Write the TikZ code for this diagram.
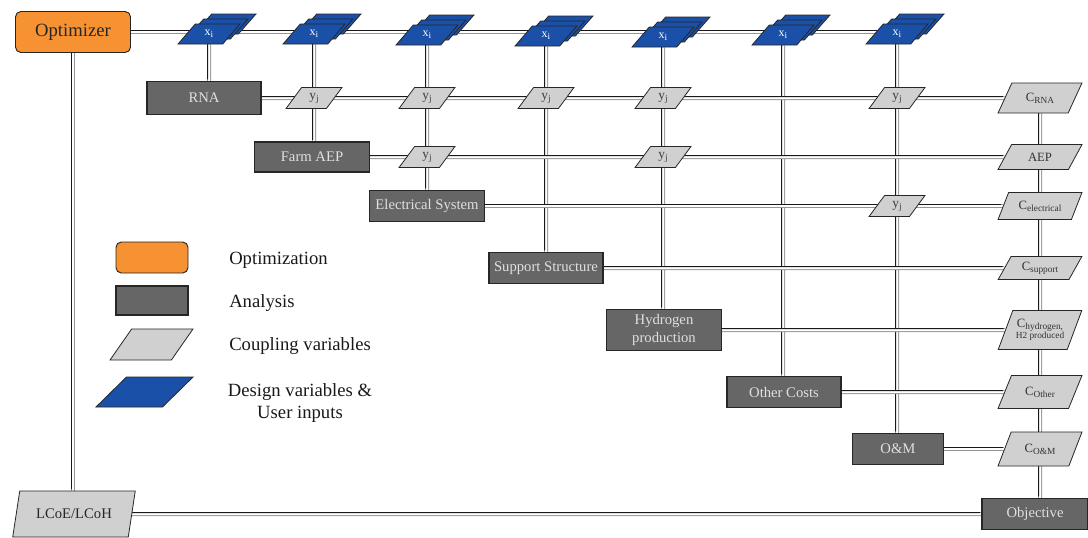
\documentclass[tikz,border=0pt]{standalone}
\usepackage{fontspec}
\setmainfont{Liberation Serif}
\usetikzlibrary{shapes.geometric,backgrounds}
\definecolor{optorange}{HTML}{F69232}
\definecolor{anagray}{HTML}{666666}
\definecolor{cplgray}{HTML}{D0D0D0}
\definecolor{dvblue}{HTML}{1B50A9}
\newcommand\subt[1]{\raisebox{-0.35ex}{\fontsize{7}{8}\selectfont #1}}
\tikzset{
  conn/.style={draw=black!42, line width=3pt,
    postaction={draw=white, line width=1.5pt},
    postaction={draw=black!90, line width=0.75pt, transform canvas={shift={(-1.125pt,1.125pt)}}}},
  optbox/.style={draw=black!85, fill=optorange, rounded corners=4pt, line width=0.7pt, inner sep=0pt, text=black!85},
  anabox/.style={draw=black!85, fill=anagray, line width=0.8pt, inner sep=0pt, text=black!12,
    font=\fontsize{11}{12.5}\selectfont, minimum width=86pt, minimum height=23.25pt, align=center},
  para/.style={trapezium, trapezium stretches=true, inner sep=1pt, draw=black!85, line width=0.6pt},
  dvpara/.style={para, fill=dvblue, text=white, trapezium left angle=55, trapezium right angle=125,
    minimum width=46.5pt, minimum height=15pt, font=\fontsize{9}{10}\selectfont},
  ypara/.style={para, fill=cplgray, text=black!75, trapezium left angle=60, trapezium right angle=120,
    minimum width=42pt, minimum height=15.75pt, font=\fontsize{10}{11}\selectfont},
  cpara/.style={para, fill=cplgray, text=black!80, trapezium left angle=60, trapezium right angle=120,
    minimum width=63pt, font=\fontsize{9.5}{10}\selectfont, align=center},
  legtext/.style={anchor=west, font=\fontsize{14}{17}\selectfont, text=black!90, inner sep=0pt},
}
\begin{document}
\begin{tikzpicture}[x=0.75pt,y=-0.75pt]
\useasboundingbox (0,0) rectangle (1088,537);

% Optimizer and objective-side nodes
\node[optbox, minimum width=86.25pt, minimum height=30.75pt, font=\fontsize{14}{16}\selectfont] (opt) at (73,32) {Optimizer};
\node[para, fill=cplgray, text=black!85, trapezium left angle=68, trapezium right angle=112,
  minimum width=92.25pt, minimum height=34.5pt, font=\fontsize{11}{12}\selectfont] (lcoe) at (74,514) {LCoE/LCoH};

% design variable stacks
\foreach \n/\x/\y in {1/209/34, 2/314/34, 3/427/35, 4/546/36, 5/663/37, 6/783/35, 7/897/34}{
  \node[dvpara] (xb\n) at (\x+16,\y-10) {\phantom{x}};
  \node[dvpara] (xa\n) at (\x+8,\y-5) {\phantom{x}};
  \node[dvpara] (x\n) at (\x,\y) {x\subt{i}};
}

% analysis blocks
\node[anabox, minimum width=85.5pt, minimum height=24.75pt] (rna) at (204,98) {RNA};
\node[anabox, minimum height=22.5pt] (farm) at (312,157) {Farm AEP};
\node[anabox] (elec) at (427,206) {Electrical System};
\node[anabox, minimum width=85.5pt] (supp) at (546,268) {Support Structure};
\node[anabox, minimum height=30.75pt, font=\fontsize{11}{13}\selectfont] (hyd) at (664,330) {Hydrogen\\production};
\node[anabox, minimum width=85.5pt] (oth) at (784,392) {Other Costs};
\node[anabox, minimum width=68.25pt] (om) at (898,449) {O\&M};
\node[anabox, minimum width=79.5pt] (obj) at (1035,514) {Objective};

% coupling variables
\node[ypara] (y11) at (314,98) {y\subt{j}};
\node[ypara] (y12) at (427,98) {y\subt{j}};
\node[ypara] (y13) at (546,98) {y\subt{j}};
\node[ypara] (y14) at (663,98) {y\subt{j}};
\node[ypara] (y15) at (897,98) {y\subt{j}};
\node[ypara] (y21) at (427,157) {y\subt{j}};
\node[ypara] (y22) at (663,157) {y\subt{j}};
\node[ypara] (y31) at (897,206) {y\subt{j}};

% cost column
\node[cpara, minimum height=22.5pt] (crna) at (1040,98) {C\subt{RNA}};
\node[cpara, minimum height=18.75pt] (caep) at (1040,157) {AEP};
\node[cpara, minimum height=20.25pt] (celec) at (1040,206) {C\subt{electrical}};
\node[cpara, minimum height=17.25pt] (csupp) at (1040,268) {C\subt{support}};
\node[cpara, minimum height=29.25pt] (chyd) at (1040,330) {C\subt{hydrogen,}\\[-2pt]{\fontsize{7}{8}\selectfont H2 produced}};
\node[cpara, minimum height=24.75pt] (coth) at (1040,392) {C\subt{Other}};
\node[cpara, minimum height=25.5pt] (com) at (1040,449) {C\subt{O\&M}};

% legend
\node[optbox, minimum width=54pt, minimum height=23.25pt] (lg1) at (152,257.5) {};
\node[anabox, minimum width=54pt, minimum height=21.75pt] (lg2) at (152,300.5) {};
\node[para, fill=cplgray, trapezium left angle=60, trapezium right angle=120,
  minimum width=62.25pt, minimum height=23.25pt] (lg3) at (151.5,344.5) {\phantom{x}};
\node[para, fill=dvblue, trapezium left angle=48, trapezium right angle=132,
  minimum width=72.75pt, minimum height=22.5pt] (lg4) at (144.5,392) {\phantom{x}};
\node[legtext] (lt1) at (229,260) {Optimization};
\node[legtext] (lt2) at (229,303) {Analysis};
\node[legtext] (lt3) at (229,346) {Coupling variables};
\node[font=\fontsize{14}{17}\selectfont, text=black!90, align=center, inner sep=0pt] (lt4) at (300,403) {Design variables \&\\User inputs};

% connectors
\begin{scope}[on background layer]
  \draw[conn] (opt) -- (opt -| x7.center);
  \draw[conn] (opt) -- (opt |- lcoe.north);
  \draw[conn] (lcoe) -- (obj);
  \draw[conn] (x1) -- (x1 |- rna.north);
  \draw[conn] (x2) -- (x2 |- farm.north);
  \draw[conn] (x3) -- (x3 |- elec.north);
  \draw[conn] (x4) -- (x4 |- supp.north);
  \draw[conn] (x5) -- (x5 |- hyd.north);
  \draw[conn] (x6) -- (x6 |- oth.north);
  \draw[conn] (x7) -- (x7 |- om.north);
  \draw[conn] (rna) -- (crna);
  \draw[conn] (farm) -- (caep);
  \draw[conn] (elec) -- (celec);
  \draw[conn] (supp) -- (csupp);
  \draw[conn] (hyd) -- (chyd);
  \draw[conn] (oth) -- (coth);
  \draw[conn] (om) -- (com);
  \draw[conn] (crna) -- (crna |- obj.north);
\end{scope}
\end{tikzpicture}
\end{document}
